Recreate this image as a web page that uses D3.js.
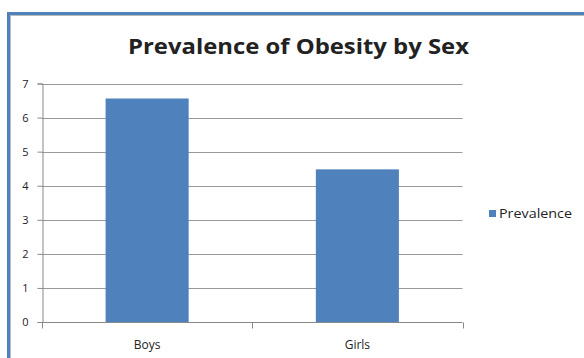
<!DOCTYPE html>
<html>
<head>
<meta charset="utf-8">
<script src="https://cdn.jsdelivr.net/npm/d3@7"></script>
<style>
  body { margin: 0; background: #fff; }
  text { font-family: "Open Sans", sans-serif; fill: #222; }
</style>
</head>
<body>
<div id="chart"></div>
<script>
const categories = ["Boys", "Girls"];
const prevalence = [6.56, 4.48];
const yTicks = [0, 1, 2, 3, 4, 5, 6, 7];
const seriesName = "Prevalence";
const chartTitle = "Prevalence of Obesity by Sex";

const width = 584;
const height = 358;
const plot = { left: 42, right: 462.5, top: 83.5, bottom: 322 };

const svg = d3.select("#chart")
    .append("svg")
    .attr("width", width)
    .attr("height", height);

// outer chart frame (runs off the right and bottom edge)
svg.append("rect")
    .attr("x", 8.5).attr("y", 13.5)
    .attr("width", 620).attr("height", 400)
    .attr("fill", "#fff")
    .attr("stroke", "#4f81bd")
    .attr("stroke-width", 3);
svg.append("rect")
    .attr("x", 10.5).attr("y", 15.5)
    .attr("width", 620).attr("height", 400)
    .attr("fill", "none")
    .attr("stroke", "#bbb")
    .attr("stroke-width", 1);

const xScale = d3.scaleBand()
    .domain(categories)
    .range([plot.left, plot.right])
    .paddingInner(0)
    .paddingOuter(0);

const yScale = d3.scaleLinear()
    .domain([0, 7])
    .range([plot.bottom, plot.top]);

// gridlines
svg.append("g")
    .selectAll("line")
    .data(yTicks.filter(d => d > 0))
    .enter()
    .append("line")
    .attr("x1", plot.left).attr("x2", plot.right)
    .attr("y1", d => Math.round(yScale(d)) + 0.5)
    .attr("y2", d => Math.round(yScale(d)) + 0.5)
    .attr("stroke", "#999")
    .attr("stroke-width", 1);

// bars
const barW = xScale.bandwidth() * 0.395;
svg.append("g")
    .selectAll("rect")
    .data(prevalence)
    .enter()
    .append("rect")
    .attr("x", (d, i) => xScale(categories[i]) + (xScale.bandwidth() - barW) / 2)
    .attr("y", d => yScale(d))
    .attr("width", barW)
    .attr("height", d => yScale(0) - yScale(d))
    .attr("fill", "#4f81bd");

// y axis
const yAxis = svg.append("g")
    .attr("transform", `translate(${plot.left + 0.5},0)`)
    .call(d3.axisLeft(yScale).tickValues(yTicks).tickSize(5).tickPadding(9).tickFormat(d3.format("d")));
yAxis.select(".domain").attr("stroke", "#888");
yAxis.selectAll(".tick line").attr("stroke", "#888");
yAxis.selectAll(".tick text")
    .style("font-family", "'Open Sans', sans-serif")
    .style("font-size", "11px")
    .attr("fill", "#222");

// x axis
const xEdges = [plot.left, ...categories.map(c => xScale(c) + xScale.bandwidth())];
const xAxis = svg.append("g")
    .attr("transform", `translate(0,${plot.bottom + 0.5})`);
xAxis.append("line")
    .attr("x1", plot.left).attr("x2", plot.right)
    .attr("stroke", "#888");
xAxis.selectAll(".edge")
    .data(xEdges)
    .enter()
    .append("line")
    .attr("class", "edge")
    .attr("x1", d => Math.round(d) + 0.5).attr("x2", d => Math.round(d) + 0.5)
    .attr("y1", 0).attr("y2", 6)
    .attr("stroke", "#888");
xAxis.selectAll(".lbl")
    .data(categories)
    .enter()
    .append("text")
    .attr("class", "lbl")
    .attr("x", d => xScale(d) + xScale.bandwidth() / 2)
    .attr("y", 26)
    .attr("text-anchor", "middle")
    .style("font-size", "12px")
    .text(d => d);

// title
svg.append("text")
    .attr("x", 298.5)
    .attr("y", 54)
    .attr("text-anchor", "middle")
    .style("font-size", "21px")
    .style("font-weight", "bold")
    .attr("textLength", 341)
    .attr("lengthAdjust", "spacingAndGlyphs")
    .attr("fill", "#000")
    .text(chartTitle);

// legend
const legend = svg.append("g").attr("transform", "translate(489,210)");
legend.append("rect")
    .attr("width", 7).attr("height", 7)
    .attr("fill", "#4f81bd");
legend.append("text")
    .attr("x", 10)
    .attr("y", 8)
    .style("font-size", "12px")
    .attr("textLength", 73)
    .attr("lengthAdjust", "spacingAndGlyphs")
    .text(seriesName);
</script>
</body>
</html>
